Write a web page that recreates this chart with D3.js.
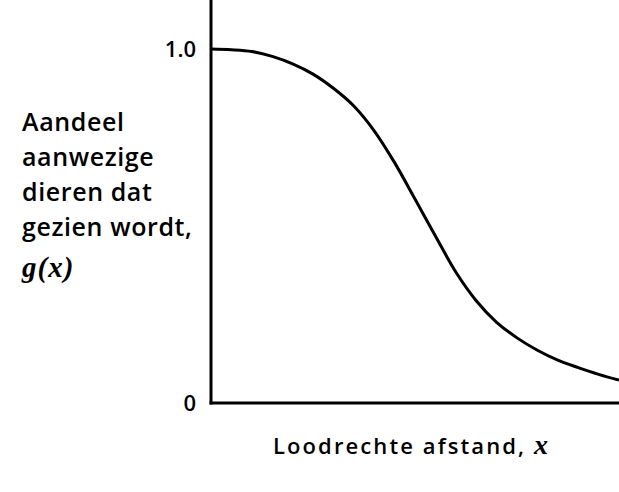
<!DOCTYPE html>
<html><head><meta charset="utf-8">
<script src="https://cdn.jsdelivr.net/npm/d3@7"></script>
<style>body{margin:0;background:#fff}svg{display:block}</style>
</head><body>
<script>
// Perpendicular distance (arbitrary units) and detection probability g(x)
const distance = [0, 0.5, 1, 1.5, 2, 2.5, 3, 3.5, 4, 4.5, 5, 5.5, 6, 6.5, 7, 7.5, 8, 8.5, 9, 9.5, 10];
const detection = [1.000, 0.998, 0.993, 0.979, 0.958, 0.929, 0.889, 0.839, 0.769, 0.679, 0.576, 0.472, 0.370, 0.289, 0.228, 0.184, 0.149, 0.121, 0.100, 0.081, 0.065];
const yTickValues = [0, 1];
const yTickLabels = ["0", "1.0"];
const yLabelLines = ["Aandeel", "aanwezige", "dieren dat", "gezien wordt,"];
const yLabelSymbol = "g(x)";
const xLabelText = "Loodrechte afstand, ";
const xLabelSymbol = "x";

const W = 619, H = 492;
const svg = d3.select("body").append("svg").attr("width", W).attr("height", H);
const font = "'Open Sans', sans-serif";

const x = d3.scaleLinear().domain([0, 10]).range([211, 619]);
const y = d3.scaleLinear().domain([0, 1]).range([403, 49]);

// axes lines
svg.append("line").attr("x1", 211).attr("x2", 211).attr("y1", 0).attr("y2", y(0) + 1.5)
  .attr("stroke", "#000").attr("stroke-width", 3);
svg.append("line").attr("x1", 211 - 1.5).attr("x2", W).attr("y1", y(0)).attr("y2", y(0))
  .attr("stroke", "#000").attr("stroke-width", 3);

// tick labels
svg.selectAll(".yt").data(yTickValues).enter().append("text")
  .attr("x", 196).attr("y", d => y(d)).attr("dy", "0.35em")
  .attr("text-anchor", "end").attr("font-family", font).attr("font-weight", 600)
  .attr("font-size", 22).text((d, i) => yTickLabels[i]);

// curve
const data = distance.map((d, i) => [d, detection[i]]);
svg.append("path").datum(data)
  .attr("d", d3.line().x(d => x(d[0])).y(d => y(d[1])).curve(d3.curveCatmullRom.alpha(0.5)))
  .attr("fill", "none").attr("stroke", "#000").attr("stroke-width", 3);

// y label
const yl = svg.append("text").attr("font-family", font).attr("font-weight", 600)
  .attr("font-size", 25).attr("letter-spacing", 0.6);
yLabelLines.forEach((t, i) => {
  yl.append("tspan").attr("x", 22).attr("y", 131 + i * 35).text(t);
});
svg.append("text").attr("x", 22).attr("y", 277).attr("font-family", "'Liberation Serif', serif")
  .attr("font-style", "italic").attr("font-weight", "bold").attr("font-size", 29)
  .attr("letter-spacing", 1).text(yLabelSymbol);

// x label
const xl = svg.append("text").attr("x", 273).attr("y", 454).attr("font-family", font)
  .attr("font-weight", 600).attr("font-size", 22);
xl.append("tspan").attr("letter-spacing", 2.1).text(xLabelText);
xl.append("tspan").attr("font-family", "'Liberation Serif', serif").attr("font-style", "italic")
  .attr("font-weight", "bold").attr("font-size", 28).text(xLabelSymbol);
</script>
</body></html>
